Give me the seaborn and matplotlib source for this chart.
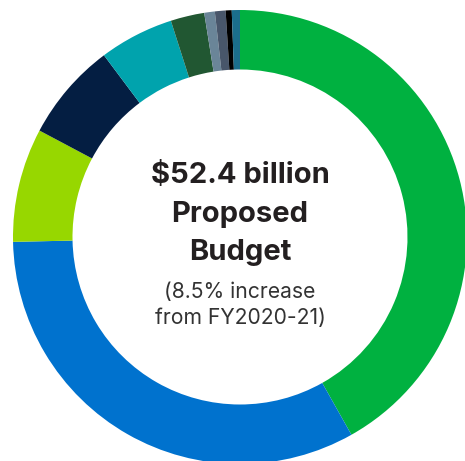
import matplotlib
matplotlib.use("Agg")
import matplotlib.pyplot as plt
import seaborn as sns

sns.set_theme(style="white")
plt.rcParams['font.family'] = ['Inter', 'DejaVu Sans']

# share of proposed budget (%), clockwise from 12 o'clock
shares = [41.8, 32.8, 8.1, 7.0, 5.3, 2.4, 0.75, 0.76, 0.43, 0.58]
colors = ["#00B140", "#0072CE", "#97D700", "#041E42", "#00A3AD",
          "#215732", "#6A8598", "#48566A", "#000000", "#1B6E8C"]

title_lines = ["$52.4 billion", "Proposed", "Budget"]
sub_lines = ["(8.5% increase", "from FY2020-21)"]

fig = plt.figure(figsize=(4.65, 4.61), dpi=100)
ax = fig.add_axes([0, 0, 1, 1])

R = 227.0
cx, cy = 240, 237
ax.pie(shares, colors=colors, startangle=90, counterclock=False, radius=1,
       wedgeprops=dict(width=59.5 / R, linewidth=0))
ax.set_xlim(-cx / R, (465 - cx) / R)
ax.set_ylim(-(461 - cy) / R, cy / R)
ax.set_aspect('auto')
ax.axis('off')

def py(y_px):
    return (cy - y_px) / R

for txt, yb in zip(title_lines, [183, 222, 260]):
    ax.text(0, py(yb), txt, ha='center', va='baseline', fontsize=21,
            fontweight='bold', color='#231f20')
for txt, yb in zip(sub_lines, [298, 324]):
    ax.text(0, py(yb), txt, ha='center', va='baseline', fontsize=15.2,
            color='#333333')

fig.savefig("out.png", dpi=100)
